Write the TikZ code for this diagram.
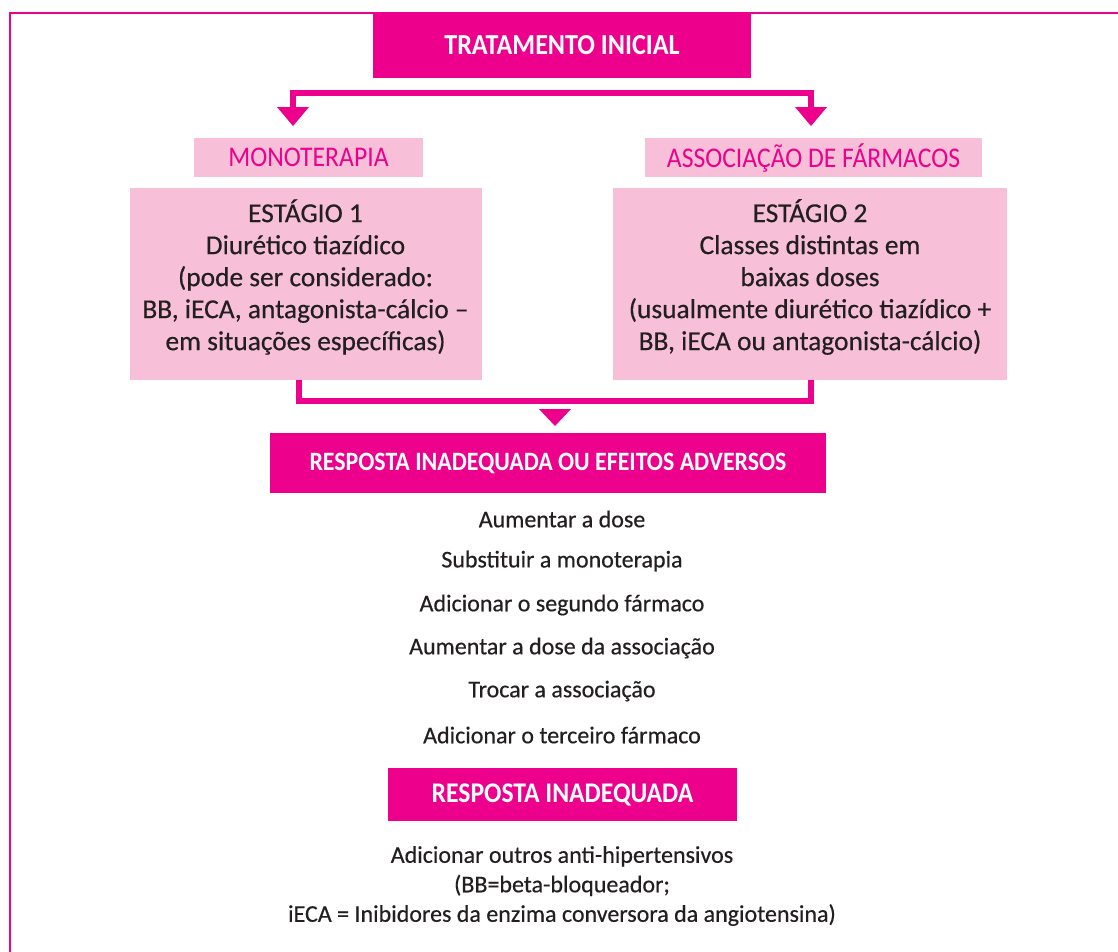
\documentclass[tikz,border=0pt]{standalone}
\usepackage{fontspec}
\setmainfont{Carlito}[FakeBold=0.4]
\newfontfamily\condfont{Carlito}[FakeStretch=0.9]
\definecolor{mag}{HTML}{EC008C}
\definecolor{lpink}{HTML}{F7C0D8}
\definecolor{txt}{HTML}{231F20}
\tikzset{
  darkbox/.style={fill=mag, inner sep=0pt, text=white},
  lightbox/.style={fill=lpink, inner sep=0pt},
  headtxt/.style={text=mag, font=\condfont\fontsize{28.5}{32}\selectfont},
  bodytxt/.style={text=txt, align=center, inner sep=0pt, font=\fontsize{27.4}{32}\selectfont},
  listtxt/.style={text=txt, inner sep=0pt, font=\fontsize{24}{28}\selectfont},
  conn/.style={draw=mag, line width=6pt},
  tip/.style={fill=mag},
  frame/.style={draw=mag, line width=2.5pt}
}
\begin{document}
\begin{tikzpicture}[x=1pt,y=-1pt]
\useasboundingbox (0,0) rectangle (1118,951);
\fill[white] (0,0) rectangle (1118,951);
% frame
\coordinate (fa) at (10,1000);
\coordinate (fb) at (10,13);
\coordinate (fc) at (1130,13);
\draw[frame] (fa) -- (fb) -- (fc);
% boxes
\node[darkbox, font=\condfont\bfseries\fontsize{29}{32}\selectfont, minimum width=378pt, minimum height=65pt] (top) at (562,45.5) {TRATAMENTO INICIAL};
\node[lightbox, headtxt, minimum width=229pt, minimum height=39pt] (mono) at (308.5,157.5) {MONOTERAPIA};
\node[lightbox, headtxt, minimum width=337pt, minimum height=39pt] (assoc) at (813.5,157.5) {ASSOCIAÇÃO DE FÁRMACOS};
\node[lightbox, minimum width=352pt, minimum height=192pt] (st1) at (305.5,284) {};
\node[lightbox, minimum width=394pt, minimum height=192pt] (st2) at (810,284) {};
\node[bodytxt] (st1t) at (305.5,277) {ESTÁGIO 1\\Diurético tiazídico\\(pode ser considerado:\\BB, iECA, antagonista-cálcio –\\em situações específicas)};
\node[bodytxt] (st2t) at (810,277) {ESTÁGIO 2\\Classes distintas em\\baixas doses\\(usualmente diurético tiazídico +\\BB, iECA ou antagonista-cálcio)};
\node[darkbox, font=\condfont\bfseries\fontsize{26.5}{32}\selectfont, minimum width=556pt, minimum height=60pt] (resp1) at (548,463) {RESPOSTA INADEQUADA OU EFEITOS ADVERSOS};
\node[listtxt] (l1) at (562,519) {Aumentar a dose};
\node[listtxt] (l2) at (562,561) {Substituir a monoterapia};
\node[listtxt] (l3) at (562,605) {Adicionar o segundo fármaco};
\node[listtxt] (l4) at (562,648) {Aumentar a dose da associação};
\node[listtxt] (l5) at (562,691) {Trocar a associação};
\node[listtxt] (l6) at (562,735) {Adicionar o terceiro fármaco};
\node[darkbox, font=\condfont\bfseries\fontsize{28.5}{32}\selectfont, minimum width=349pt, minimum height=53pt] (resp2) at (562.5,794.5) {RESPOSTA INADEQUADA};
\node[bodytxt, font=\fontsize{24}{29.5}\selectfont] (fin) at (562,886) {Adicionar outros anti-hipertensivos\\(BB=beta-bloqueador;\\iECA = Inibidores da enzima conversora da angiotensina)};
% top bracket
\coordinate (ta) at (293,108);
\coordinate (tb) at (293,93);
\coordinate (tc) at (811,93);
\coordinate (td) at (811,108);
\draw[conn] (ta) -- (tb) -- (tc) -- (td);
\fill[tip] (277,107) -- (309,107) -- (293,126) -- cycle;
\fill[tip] (795,107) -- (827,107) -- (811,126) -- cycle;
% bottom bracket
\coordinate (ba) at (298.5,380);
\coordinate (bb) at (298.5,401);
\coordinate (bc) at (810.5,401);
\coordinate (bd) at (810.5,380);
\draw[conn] (st1.south -| ba) -- (bb) -- (bc) -- (st2.south -| bd);
\fill[tip] (539,409) -- (571,409) -- (555,426) -- cycle;
\end{tikzpicture}
\end{document}
